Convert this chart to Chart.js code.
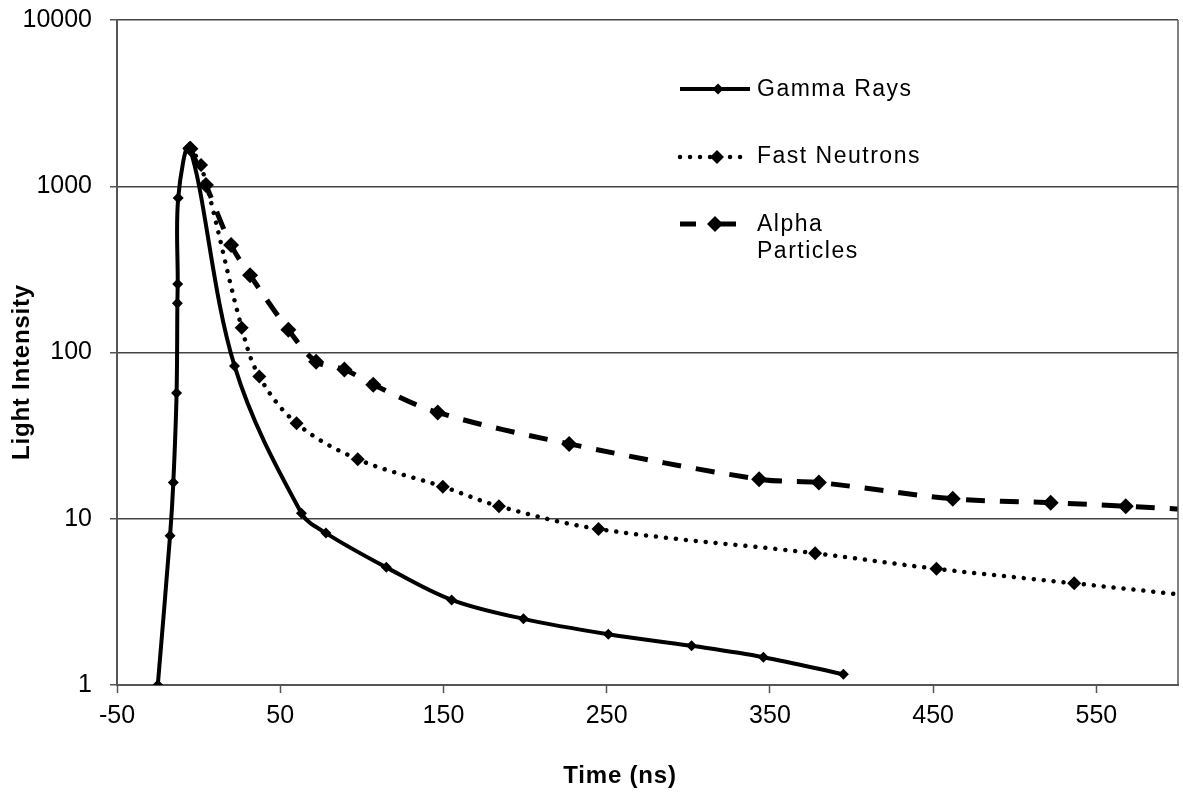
<!DOCTYPE html>
<html>
<head>
<meta charset="utf-8">
<title>Light Intensity vs Time</title>
<script src="https://cdn.jsdelivr.net/npm/chart.js@4/dist/chart.umd.min.js"></script>
<style>
  html, body { margin: 0; padding: 0; background: #ffffff; }
  #wrap { width: 1183px; height: 794px; }
</style>
</head>
<body>
<div id="wrap"><canvas id="pulse" width="1183" height="794"></canvas></div>
<script>
// pulse shapes: time in ns, light intensity (log scale)
const gammaTime = [-25, -17.5, -15.5, -13.5, -13, -12.8, -12.5, -5.5, 22, 63, 78, 115, 155, 199, 251, 302, 346, 395];
const gammaValue = [1, 7.9, 16.5, 57, 198, 258, 850, 1700, 83, 10.8, 8.2, 5.1, 3.25, 2.5, 2.02, 1.72, 1.47, 1.16];

const neutronTime = [-5.5, 1.5, 26.4, 37.2, 60, 97.5, 149.6, 184, 245, 377.7, 452, 536.4, 620];
const neutronValue = [1700, 1340, 141, 71.6, 37.5, 22.8, 15.6, 11.9, 8.67, 6.2, 5.0, 4.09, 3.35];

const alphaTime = [-5, 4.5, 19.9, 31.5, 55, 72, 89.3, 107, 146.5, 227, 343.4, 380, 462, 522, 568, 630];
const alphaValue = [1680, 1018, 443, 292, 137, 88, 79, 64, 43.6, 28.2, 17.3, 16.5, 13.2, 12.5, 11.9, 11.0];

const xTicks = [-50, 50, 150, 250, 350, 450, 550];
const yTicks = [1, 10, 100, 1000, 10000];

const seriesNames = ["Gamma Rays", "Fast Neutrons", "Alpha Particles"];

function toPoints(xs, ys) {
  return xs.map((x, i) => ({ x: x, y: ys[i] }));
}

const axisColor = "#555555";
const FONT = "'Liberation Sans', Arial, sans-serif";

// axis titles, plot frame and the legend box
const decorPlugin = {
  id: "decor",
  afterDraw(chart) {
    const ctx = chart.ctx;
    const area = chart.chartArea;
    ctx.save();

    // right edge of plot area
    ctx.strokeStyle = axisColor;
    ctx.lineWidth = 1.5;
    ctx.beginPath();
    ctx.moveTo(area.right, area.top);
    ctx.lineTo(area.right, area.bottom);
    ctx.stroke();

    // axis titles
    ctx.fillStyle = "#000";
    ctx.font = "bold 24px " + FONT;
    if ("letterSpacing" in ctx) ctx.letterSpacing = "0.8px";
    ctx.textAlign = "center";
    ctx.textBaseline = "middle";
    ctx.fillText("Time (ns)", 620, 776);
    ctx.save();
    ctx.translate(22, 372);
    ctx.rotate(-Math.PI / 2);
    ctx.fillText("Light Intensity", 0, 0);
    ctx.restore();

    // legend
    const ds = chart.data.datasets;
    const rows = [
      { y: 89, x0: 680, x1: 750, mx: 718 },
      { y: 157, x0: 680, x1: 742, mx: 717 },
      { y: 224, x0: 680, x1: 736, mx: 715 },
    ];
    rows.forEach((r, i) => {
      const d = ds[i];
      ctx.strokeStyle = "#000";
      ctx.lineWidth = d.borderWidth;
      ctx.lineCap = d.borderCapStyle || "butt";
      ctx.setLineDash(d.borderDash || []);
      ctx.beginPath();
      if (i === 2) {
        ctx.setLineDash([]);
        ctx.moveTo(680, r.y); ctx.lineTo(696, r.y);
        ctx.moveTo(712, r.y); ctx.lineTo(736, r.y);
      } else {
        ctx.moveTo(r.x0, r.y); ctx.lineTo(r.x1, r.y);
      }
      ctx.stroke();
      ctx.setLineDash([]);
      const s = d.pointRadius;
      ctx.fillStyle = "#000";
      ctx.beginPath();
      ctx.moveTo(r.mx - s, r.y);
      ctx.lineTo(r.mx, r.y - s);
      ctx.lineTo(r.mx + s, r.y);
      ctx.lineTo(r.mx, r.y + s);
      ctx.closePath();
      ctx.fill();
    });

    ctx.font = "23px " + FONT;
    if ("letterSpacing" in ctx) ctx.letterSpacing = "1.5px";
    ctx.textAlign = "left";
    ctx.fillStyle = "#000";
    ctx.fillText(seriesNames[0], 757, 90);
    ctx.fillText(seriesNames[1], 757, 157);
    const words = seriesNames[2].split(" ");
    ctx.fillText(words[0], 757, 225);
    ctx.fillText(words[1], 757, 252);
    ctx.restore();
  },
};

new Chart(document.getElementById("pulse"), {
  type: "line",
  data: {
    datasets: [
      {
        label: seriesNames[0],
        data: toPoints(gammaTime, gammaValue),
        borderColor: "#000",
        borderWidth: 4,
        pointStyle: "rectRot",
        pointRadius: 5.5,
        pointBackgroundColor: "#000",
        pointBorderWidth: 0,
        tension: 0.35,
      },
      {
        label: seriesNames[1],
        data: toPoints(neutronTime, neutronValue),
        borderColor: "#000",
        borderWidth: 4.5,
        borderDash: [0.01, 10],
        borderCapStyle: "round",
        pointStyle: "rectRot",
        pointRadius: 7,
        pointBackgroundColor: "#000",
        pointBorderWidth: 0,
        tension: 0.35,
      },
      {
        label: seriesNames[2],
        data: toPoints(alphaTime, alphaValue),
        borderColor: "#000",
        borderWidth: 5,
        borderDash: [19, 15],
        pointStyle: "rectRot",
        pointRadius: 8,
        pointBackgroundColor: "#000",
        pointBorderWidth: 0,
        tension: 0.35,
      },
    ],
  },
  options: {
    responsive: false,
    animation: false,
    layout: { autoPadding: false, padding: { top: 20, right: 5, left: 0, bottom: 0 } },
    plugins: {
      legend: { display: false },
      tooltip: { enabled: false },
    },
    scales: {
      x: {
        type: "linear",
        min: -50,
        max: 600,
        afterBuildTicks: (scale) => {
          scale.ticks = xTicks.map((v) => ({ value: v }));
        },
        afterFit: (scale) => {
          scale.height = 109;
          scale.paddingLeft = 0;
          scale.paddingRight = 0;
        },
        ticks: {
          color: "#000",
          font: { family: FONT, size: 25 },
          padding: 8,
          maxRotation: 0,
          callback: (v) => String(v),
        },
        grid: {
          drawOnChartArea: false,
          drawTicks: true,
          tickLength: 8,
          tickWidth: 1.5,
          tickColor: axisColor,
        },
        border: { color: axisColor, width: 2 },
      },
      y: {
        type: "logarithmic",
        min: 1,
        max: 10000,
        afterBuildTicks: (scale) => {
          scale.ticks = yTicks.map((v) => ({ value: v }));
        },
        afterFit: (scale) => {
          scale.width = 117;
          scale.paddingTop = 0;
          scale.paddingBottom = 0;
        },
        ticks: {
          color: "#000",
          font: { family: FONT, size: 25 },
          padding: 18,
          callback: (v) => String(v),
        },
        grid: {
          color: "#444444",
          lineWidth: 1.5,
          drawTicks: true,
          tickLength: 7,
          tickColor: axisColor,
        },
        border: { color: axisColor, width: 2 },
      },
    },
  },
  plugins: [decorPlugin],
});
</script>
</body>
</html>
